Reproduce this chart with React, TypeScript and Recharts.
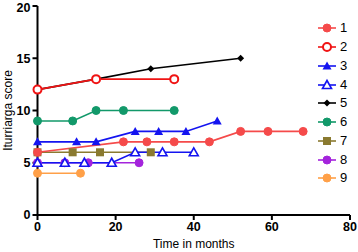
import { CartesianGrid, Legend, Line, LineChart, XAxis, YAxis } from "recharts";

type Shape = "circle" | "openCircle" | "triangle" | "openTriangle" | "diamond" | "square";

const NAMES = ["1", "2", "3", "4", "5", "6", "7", "8", "9"];
const COLORS = ["#f54a4a", "#f01414", "#1414f0", "#1414f0", "#000000", "#12996a", "#8a7a30", "#a424dc", "#ffa048"];
const SHAPES: Shape[] = ["circle", "openCircle", "triangle", "openTriangle", "diamond", "circle", "square", "circle", "circle"];

const X_TICKS = [0, 20, 40, 60, 80];
const Y_TICKS = [0, 5, 10, 15, 20];

// months / score per patient
const S1_MONTHS = [0, 22, 28, 35, 44, 52, 59, 68];
const S1_SCORES = [6, 7, 7, 7, 7, 8, 8, 8];
const S2_MONTHS = [0, 15, 35];
const S2_SCORES = [12, 13, 13];
const S3_MONTHS = [0, 10, 15, 25, 31, 38, 46];
const S3_SCORES = [7, 7, 7, 8, 8, 8, 9];
const S4_MONTHS = [0, 7, 12, 19, 25, 32, 40];
const S4_SCORES = [5, 5, 5, 5, 6, 6, 6];
const S5_MONTHS = [0, 15, 29, 52];
const S5_SCORES = [12, 13, 14, 15];
const S6_MONTHS = [0, 9, 15, 22, 35];
const S6_SCORES = [9, 9, 10, 10, 10];
const S7_MONTHS = [0, 9, 16, 29];
const S7_SCORES = [6, 6, 6, 6];
const S8_MONTHS = [0, 7, 13, 26];
const S8_SCORES = [5, 5, 5, 5];
const S9_MONTHS = [0, 11];
const S9_SCORES = [4, 4];

const MONTHS = [S1_MONTHS, S2_MONTHS, S3_MONTHS, S4_MONTHS, S5_MONTHS, S6_MONTHS, S7_MONTHS, S8_MONTHS, S9_MONTHS];
const SCORES = [S1_SCORES, S2_SCORES, S3_SCORES, S4_SCORES, S5_SCORES, S6_SCORES, S7_SCORES, S8_SCORES, S9_SCORES];

const series = NAMES.map((name, i) => ({
  name,
  color: COLORS[i],
  shape: SHAPES[i],
  data: MONTHS[i].map((m, j) => ({ x: m, y: SCORES[i][j] })),
}));

function Marker({ cx, cy, shape, color }: { cx: number; cy: number; shape: Shape; color: string }) {
  if (shape === "circle") return <circle cx={cx} cy={cy} r={4} fill={color} stroke={color} strokeWidth={1} />;
  if (shape === "openCircle") return <circle cx={cx} cy={cy} r={4} fill="#fff" stroke={color} strokeWidth={2} />;
  if (shape === "square") return <rect x={cx - 4} y={cy - 4} width={8} height={8} fill={color} />;
  if (shape === "diamond") return <polygon points={`${cx},${cy - 3.5} ${cx + 3.5},${cy} ${cx},${cy + 3.5} ${cx - 3.5},${cy}`} fill={color} />;
  const pts = `${cx},${cy - 4.5} ${cx + 4.5},${cy + 3.5} ${cx - 4.5},${cy + 3.5}`;
  if (shape === "triangle") return <polygon points={pts} fill={color} />;
  return <polygon points={pts} fill="#fff" stroke={color} strokeWidth={1.6} />;
}

function LegendBox() {
  return (
    <div style={{ fontFamily: "'Liberation Sans', Arial, sans-serif", fontSize: 13, color: "#000" }}>
      {series.map((s) => (
        <div key={s.name} style={{ display: "flex", alignItems: "center", height: 18.75 }}>
          <svg width={22} height={18} style={{ display: "block" }}>
            <line x1={2} x2={20} y1={9} y2={9} stroke={s.color} strokeWidth={1.6} />
            <Marker cx={11} cy={9} shape={s.shape} color={s.color} />
          </svg>
          <span style={{ marginLeft: 2, lineHeight: "18px" }}>{s.name}</span>
        </div>
      ))}
    </div>
  );
}

const tickStyle = { fontSize: 12.5, fontWeight: 700, fill: "#000", fontFamily: "'Liberation Sans', Arial, sans-serif" };

export default function App() {
  const drawOrder = [...series].reverse();
  return (
    <div style={{ position: "absolute", left: 0, top: 0, background: "#fff" }}>
      <LineChart width={358} height={252} margin={{ top: 6, right: 8, left: 0, bottom: 0 }}>
        <CartesianGrid stroke="none" />
        <XAxis
          type="number"
          dataKey="x"
          domain={[0, 80]}
          ticks={X_TICKS}
          height={37}
          tick={tickStyle}
          tickSize={5}
          axisLine={{ stroke: "#000", strokeWidth: 2 }}
          tickLine={{ stroke: "#000", strokeWidth: 2 }}
          label={{
            value: "Time in months",
            position: "insideBottom",
            offset: 4,
            style: { fontSize: 12, fill: "#000", fontFamily: "'Liberation Sans', Arial, sans-serif" },
          }}
        />
        <YAxis
          type="number"
          dataKey="y"
          domain={[0, 20]}
          ticks={Y_TICKS}
          width={37.5}
          tick={tickStyle}
          tickSize={5}
          tickMargin={2}
          axisLine={{ stroke: "#000", strokeWidth: 2 }}
          tickLine={{ stroke: "#000", strokeWidth: 2 }}
          label={{
            content: (props: any) => {
              const vb = props.viewBox || { x: 0, y: 0, height: 0 };
              const x = vb.x + 8;
              const y = vb.y + vb.height / 2;
              return (
                <text
                  x={x}
                  y={y}
                  transform={`rotate(-90, ${x}, ${y})`}
                  textAnchor="middle"
                  dominantBaseline="central"
                  fontSize={12}
                  fill="#000"
                  fontFamily="'Liberation Sans', Arial, sans-serif"
                >
                  Iturriarga score
                </text>
              );
            },
          }}
        />
        <Legend
          layout="vertical"
          align="center"
          verticalAlign="middle"
          wrapperStyle={{ left: 316, top: 19, width: 42 }}
          content={() => <LegendBox />}
        />
        {drawOrder.map((s) => (
          <Line
            key={s.name}
            data={s.data}
            dataKey="y"
            name={s.name}
            stroke={s.color}
            strokeWidth={1.6}
            isAnimationActive={false}
            activeDot={false}
            dot={(p: any) => <Marker key={`${s.name}-${p.index}`} cx={p.cx} cy={p.cy} shape={s.shape} color={s.color} />}
          />
        ))}
      </LineChart>
    </div>
  );
}
